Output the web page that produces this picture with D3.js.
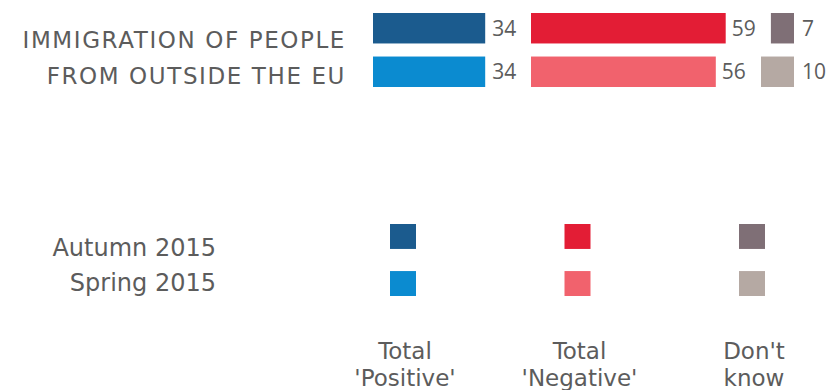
<!DOCTYPE html>
<html><head><meta charset="utf-8">
<script src="https://cdn.jsdelivr.net/npm/d3@7/dist/d3.min.js"></script>
<style>html,body{margin:0;padding:0;background:#fff;}svg{display:block;}</style>
</head><body><svg id="c" width="829" height="390"></svg>
<script>
const categoryLines = ["IMMIGRATION OF PEOPLE", "FROM OUTSIDE THE EU"];
const seasons = ["Autumn 2015", "Spring 2015"];
const positive = [34, 34];
const negative = [59, 56];
const dontKnow = [7, 10];
const answerLabels = [["Total", "'Positive'"], ["Total", "'Negative'"], ["Don't", "know"]];
const colors = {
  positive: ["#1b5b8e", "#0b8bd0"],
  negative: ["#e31d35", "#f1626d"],
  dontKnow: ["#7f6f76", "#b5a9a3"]
};

const svg = d3.select("#c");
const font = "'DejaVu Sans', 'Open Sans', sans-serif";
const numFont = "'Open Sans', 'Noto Sans', sans-serif";
const textColor = "#5c5c5c";

const x = d3.scaleLinear().domain([0, 100]).range([0, 330]);
const y = d3.scaleBand().domain(seasons).range([13, 87]).paddingInner(0.3);

const posX0 = 373, negX0 = 531, dkRight = 794;

// category label
svg.append("text")
  .attr("text-anchor", "end")
  .attr("font-family", font).attr("font-size", 23).attr("font-weight", 400)
  .attr("letter-spacing", 1.6)
  .attr("fill", textColor)
  .selectAll("tspan").data(categoryLines).join("tspan")
  .attr("x", 346).attr("y", (d, i) => [48, 84][i])
  .text(d => d);

const rows = seasons.map((s, i) => ({season: s, i, pos: positive[i], neg: negative[i], dk: dontKnow[i]}));

const row = svg.append("g").selectAll("g.row").data(rows).join("g").attr("class", "row");
const labelY = d => y(d.season) + y.bandwidth() / 2 + 7.5;

row.append("rect")
  .attr("x", posX0).attr("y", d => y(d.season))
  .attr("width", d => x(d.pos)).attr("height", y.bandwidth())
  .attr("fill", d => colors.positive[d.i]);
row.append("text")
  .attr("x", d => posX0 + x(d.pos) + 7).attr("y", labelY)
  .attr("font-family", numFont).attr("font-size", 21).attr("fill", textColor)
  .text(d => d.pos);

row.append("rect")
  .attr("x", negX0).attr("y", d => y(d.season))
  .attr("width", d => x(d.neg)).attr("height", y.bandwidth())
  .attr("fill", d => colors.negative[d.i]);
row.append("text")
  .attr("x", d => negX0 + x(d.neg) + 6).attr("y", labelY)
  .attr("font-family", numFont).attr("font-size", 21).attr("fill", textColor)
  .text(d => d.neg);

row.append("rect")
  .attr("x", d => dkRight - x(d.dk)).attr("y", d => y(d.season))
  .attr("width", d => x(d.dk)).attr("height", y.bandwidth())
  .attr("fill", d => colors.dontKnow[d.i]);
row.append("text")
  .attr("x", dkRight + 8).attr("y", labelY)
  .attr("font-family", numFont).attr("font-size", 21).attr("fill", textColor)
  .text(d => d.dk);

// legend
const ly = d3.scaleBand().domain(seasons).range([224, 296]).paddingInner(0.47);
const keys = ["positive", "negative", "dontKnow"];
const lx = d3.scalePoint().domain(keys).range([403, 752]);

svg.selectAll("text.season").data(seasons).join("text").attr("class", "season")
  .attr("x", 216).attr("y", (d, i) => [256, 291][i])
  .attr("text-anchor", "end")
  .attr("font-family", font).attr("font-size", 24).attr("fill", textColor)
  .text(d => d);

keys.forEach((k, ki) => {
  svg.selectAll("rect.leg-" + k).data(seasons).join("rect").attr("class", "leg-" + k)
    .attr("x", lx(k) - 13).attr("y", d => ly(d))
    .attr("width", 26).attr("height", ly.bandwidth())
    .attr("fill", (d, i) => colors[k][i]);
  svg.append("text")
    .attr("text-anchor", "middle")
    .attr("font-family", font).attr("font-size", 23).attr("fill", textColor)
    .selectAll("tspan").data(answerLabels[ki]).join("tspan")
    .attr("x", lx(k) + 2).attr("y", (d, i) => [359, 386][i])
    .text(d => d);
});
</script></body></html>
